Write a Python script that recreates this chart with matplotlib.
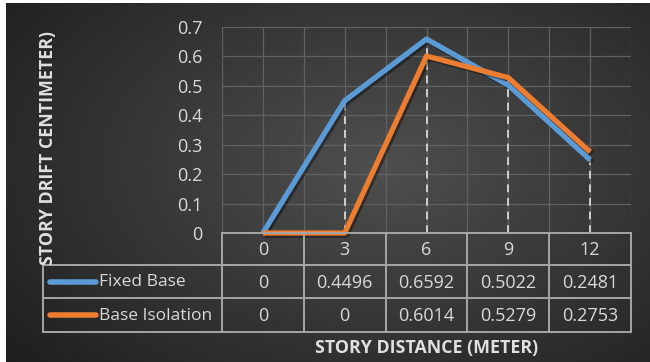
import numpy as np
import matplotlib
matplotlib.use("Agg")
import matplotlib.pyplot as plt
import matplotlib.patheffects as pe

# data
distances = [0, 3, 6, 9, 12]
fixed_base = [0, 0.4496, 0.6592, 0.5022, 0.2481]
base_isolation = [0, 0, 0.6014, 0.5279, 0.2753]
series_names = ["Fixed Base", "Base Isolation"]
series_colors = ["#5b9bd5", "#ed7d31"]
y_ticks = [0, 0.1, 0.2, 0.3, 0.4, 0.5, 0.6, 0.7]

W, H = 650, 362
plt.rcParams['font.family'] = ['Open Sans', 'DejaVu Sans']
txt_col = "#d9d9d9"
line_col = "#a6a6a6"

fig = plt.figure(figsize=(W / 100, H / 100), dpi=100)
fig.patch.set_facecolor("white")

# dark radial background (white strip top and left like the screenshot)
bg = fig.add_axes([6 / W, 0, (W - 6) / W, (H - 3) / H])
gx, gy = np.meshgrid(np.linspace(0, 1, 400), np.linspace(0, 1, 250))
r = np.sqrt(((gx - 0.58) / 0.75) ** 2 + ((gy - 0.45) / 0.85) ** 2)
r = np.clip(r, 0, 1)
shade = 0.31 - 0.19 * r
bg.imshow(np.dstack([shade, shade, shade]), extent=[0, 1, 0, 1], aspect="auto", origin="upper")
bg.axis("off")
bg.set_zorder(-10)

# plot area
x0, x1, ytop, ybot = 222, 631, 27, 233
ax = fig.add_axes([x0 / W, 1 - ybot / H, (x1 - x0) / W, (ybot - ytop) / H])
ax.patch.set_alpha(0)
xs = np.arange(len(distances))
ax.set_xlim(-0.5, len(distances) - 0.5)
ax.set_ylim(0, 0.7)

for gxv in np.arange(-0.5, len(distances) - 0.4, 0.5):
    ax.axvline(gxv, color="#616161", lw=0.9, zorder=1)
for t in y_ticks[1:]:
    ax.axhline(t, color="#616161", lw=0.9, zorder=1)

# drop lines
tops = np.maximum(fixed_base, base_isolation)
for xi, top in zip(xs, tops):
    if top > 0:
        ax.plot([xi, xi], [0, top], color="#d0d0d0", lw=1.4, ls=(0, (4, 3)), zorder=2)

shadow = [pe.SimpleLineShadow(offset=(1.5, -1.5), alpha=0.4), pe.Normal()]
for vals, c in zip([fixed_base, base_isolation], series_colors):
    ax.plot(xs, vals, color=c, lw=3.8, solid_capstyle="butt", zorder=3, path_effects=shadow, clip_on=False)

ax.set_yticks(y_ticks)
ax.set_yticklabels([f"{t:g}" for t in y_ticks], color=txt_col, fontsize=13)
ax.tick_params(axis="y", length=0, pad=14)
ax.tick_params(axis="x", length=0, labelbottom=False)
for s in ax.spines.values():
    s.set_visible(False)

# data table overlay in pixel coords
ov = fig.add_axes([0, 0, 1, 1])
ov.set_xlim(0, W)
ov.set_ylim(H, 0)
ov.axis("off")
ov.patch.set_alpha(0)

col_w = (x1 - x0) / len(distances)
row_y = [233, 265, 298, 332]
left = 43
ov.plot([x0, x1], [row_y[0], row_y[0]], color=line_col, lw=1.4)
for yy in row_y[1:]:
    ov.plot([left, x1], [yy, yy], color=line_col, lw=1.4)
ov.plot([left, left], [row_y[1], row_y[3]], color=line_col, lw=1.4)
for i in range(len(distances) + 1):
    xx = x0 + i * col_w
    ov.plot([xx, xx], [row_y[0], row_y[3]], color=line_col, lw=1.4)

for i, d in enumerate(distances):
    ov.text(x0 + (i + 0.5) * col_w, (row_y[0] + row_y[1]) / 2 + 1, str(d),
            ha="center", va="center", color=txt_col, fontsize=13)

for r_i, (name, vals, c) in enumerate(zip(series_names, [fixed_base, base_isolation], series_colors)):
    yc = (row_y[r_i + 1] + row_y[r_i + 2]) / 2
    ov.plot([50, 96], [yc, yc], color=c, lw=4, solid_capstyle="round")
    ov.text(99, yc + 1, name, ha="left", va="center", color=txt_col, fontsize=12.5)
    for i, v in enumerate(vals):
        ov.text(x0 + (i + 0.5) * col_w, yc + 1, f"{v:g}",
                ha="center", va="center", color=txt_col, fontsize=13)

ov.text(427, 348, "STORY DISTANCE (METER)", ha="center", va="center",
        color="#e0e0e0", fontsize=12.8, fontweight="bold")
ov.text(48, 148, "STORY DRIFT CENTIMETER)", ha="center", va="center", rotation=90,
        color="#e0e0e0", fontsize=12.8, fontweight="bold")

fig.savefig("out.png", dpi=100, facecolor=fig.get_facecolor())
